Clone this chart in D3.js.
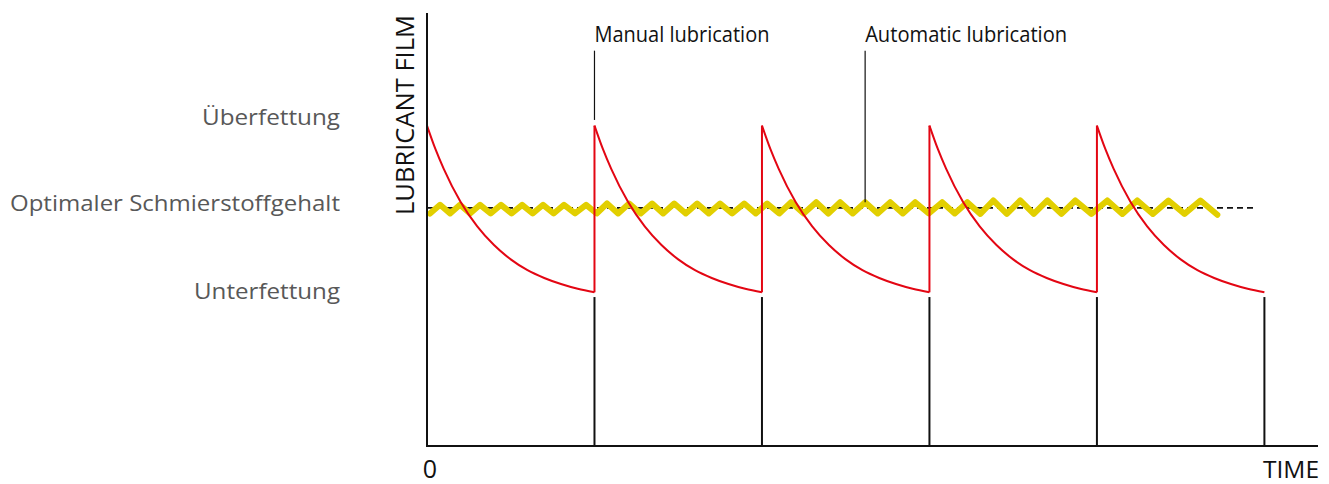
<!DOCTYPE html>
<html><head><meta charset="utf-8">
<script src="https://cdn.jsdelivr.net/npm/d3@7"></script>
<style>body{margin:0;background:#fff} svg{display:block}</style>
</head><body><svg id="c" width="1329" height="484"></svg>
<script>
// ---- data (time: 100 units = one manual lubrication interval; level 0..100) ----
const cycleStarts = [0, 100, 200, 300, 400];
const decayT = [0, 5, 10, 20, 30, 40, 50, 60, 70, 80, 90, 100];
const decayLevel = [74, 68.6, 64.0, 56.4, 50.7, 46.4, 43.1, 40.6, 38.8, 37.4, 36.3, 35.5];
const refillT = [100, 200, 300, 400];
const supplyMarksT = [100, 200, 300, 400, 500];
const supplyTopLevel = 34.4;
const optimumLevel = 55;
const optimumEndT = 495;
const zigT = [1.8, 7.8, 13.8, 19.7, 25.7, 31.7, 38.0, 44.2, 50.5, 56.8, 63.1, 69.3, 75.6, 81.8, 88.4, 95.0,
  101.3, 107.5, 114.1, 120.7, 127.6, 134.4, 141.0, 147.6, 154.5, 161.3, 168.2, 175.0, 182.2, 189.4, 196.3, 203.1,
  210.3, 217.4, 224.9, 232.4, 239.6, 246.7, 254.2, 261.6, 269.1, 276.6, 284.1, 291.5, 299.6, 307.6, 315.1, 322.6,
  330.4, 338.1, 346.2, 354.2, 362.3, 370.4, 378.8, 387.1, 396.7, 406.2, 415.2, 424.1, 433.4, 442.7, 452.3, 461.8, 471.9];
const zigLevel = [53.7, 55.7, 53.7, 55.7, 53.7, 55.7, 53.7, 55.7, 53.7, 55.7, 53.7, 55.7, 53.7, 55.7, 53.7, 55.7,
  53.7, 56.0, 53.7, 56.0, 53.7, 56.0, 53.7, 56.0, 53.7, 56.0, 53.7, 56.0, 53.7, 56.0, 53.7, 56.0,
  53.7, 56.3, 53.7, 56.3, 53.7, 56.3, 53.7, 56.3, 53.7, 56.3, 53.7, 56.3, 53.7, 56.3, 53.7, 56.3,
  53.6, 56.7, 53.6, 56.7, 53.6, 56.7, 53.6, 56.7, 53.6, 56.7, 53.6, 56.7, 53.6, 56.7, 53.6, 56.7, 53.4];
const levelLabels = ["Überfettung", "Optimaler Schmierstoffgehalt", "Unterfettung"];
const levelLabelValues = [76, 56, 35.7];
const calloutLabels = ["Manual lubrication", "Automatic lubrication"];
const calloutT = [100, 261.6];
const calloutTopLevel = 91.3;
const calloutBottomLevel = [75.3, 56.3];
const calloutTextLevel = 93.2;
const xTickLabels = ["0", "TIME"];
const yAxisTitle = "LUBRICANT FILM";

// ---- layout ----
const svg = d3.select("#c");
const x = d3.scaleLinear().domain([0, 532]).range([427, 1318]);
const y = d3.scaleLinear().domain([0, 100]).range([446, 13]);
const FONT = "'Open Sans', 'DejaVu Sans', sans-serif";
const RED = "#e30613", YELLOW = "#e2cf00";

// optimum dashed line
svg.append("line")
  .attr("x1", x(0)).attr("x2", x(optimumEndT))
  .attr("y1", y(optimumLevel)).attr("y2", y(optimumLevel))
  .attr("stroke", "#111").attr("stroke-width", 1.6).attr("stroke-dasharray", "6,4");

// automatic lubrication zigzag
const zig = zigT.map((t, i) => [t, zigLevel[i]]);
svg.append("path")
  .attr("d", d3.line().x(d => x(d[0])).y(d => y(d[1]))(zig))
  .attr("fill", "none").attr("stroke", YELLOW).attr("stroke-width", 6)
  .attr("stroke-linejoin", "round").attr("stroke-linecap", "round");

// manual lubrication decay curves
const decayLine = d3.line().x(d => x(d[0])).y(d => y(d[1])).curve(d3.curveMonotoneX);
cycleStarts.forEach(s => {
  svg.append("path")
    .attr("d", decayLine(decayT.map((t, i) => [s + t, decayLevel[i]])))
    .attr("fill", "none").attr("stroke", RED).attr("stroke-width", 2);
});
svg.selectAll(".refill").data(refillT).join("line")
  .attr("x1", d => x(d)).attr("x2", d => x(d))
  .attr("y1", y(decayLevel[decayLevel.length - 1])).attr("y2", y(decayLevel[0]))
  .attr("stroke", RED).attr("stroke-width", 2);

// black supply marks
svg.selectAll(".supply").data(supplyMarksT).join("line")
  .attr("x1", d => x(d)).attr("x2", d => x(d))
  .attr("y1", y(supplyTopLevel)).attr("y2", y(0))
  .attr("stroke", "#111").attr("stroke-width", 2);

// axes
svg.append("line").attr("x1", x(0)).attr("x2", x(0)).attr("y1", y(100)).attr("y2", y(0) + 1)
  .attr("stroke", "#111").attr("stroke-width", 2);
svg.append("line").attr("x1", x(0) - 1).attr("x2", x(532)).attr("y1", y(0)).attr("y2", y(0))
  .attr("stroke", "#111").attr("stroke-width", 2);

// callouts
calloutT.forEach((t, i) => {
  svg.append("line").attr("x1", x(t)).attr("x2", x(t))
    .attr("y1", y(calloutTopLevel)).attr("y2", y(calloutBottomLevel[i]))
    .attr("stroke", "#111").attr("stroke-width", 1.2);
});
const calloutWidths = [175, 202];
calloutLabels.forEach((txt, i) => {
  svg.append("text").attr("x", x(calloutT[i])).attr("y", y(calloutTextLevel))
    .attr("font-family", FONT).attr("font-size", 22).attr("fill", "#111")
    .attr("textLength", calloutWidths[i]).attr("lengthAdjust", "spacingAndGlyphs")
    .text(txt);
});

// level labels
const levelWidths = [138, 330, 146];
levelLabels.forEach((txt, i) => {
  svg.append("text").attr("x", 340).attr("y", y(levelLabelValues[i]))
    .attr("dy", "0.36em").attr("text-anchor", "end")
    .attr("font-family", FONT).attr("font-size", 22).attr("fill", "#585858")
    .attr("textLength", levelWidths[i]).attr("lengthAdjust", "spacingAndGlyphs")
    .text(txt);
});

// y axis title
svg.append("text").attr("transform", `translate(414,${y(100) + 2}) rotate(-90)`)
  .attr("text-anchor", "end")
  .attr("font-family", FONT).attr("font-size", 25).attr("fill", "#111")
  .attr("textLength", 200).attr("lengthAdjust", "spacingAndGlyphs")
  .text(yAxisTitle);

// x labels
svg.append("text").attr("x", x(0) + 3).attr("y", 478).attr("text-anchor", "middle")
  .attr("font-family", FONT).attr("font-size", 25).attr("fill", "#111").text(xTickLabels[0]);
svg.append("text").attr("x", x(532) + 1).attr("y", 478).attr("text-anchor", "end")
  .attr("font-family", FONT).attr("font-size", 24).attr("fill", "#111")
  .attr("textLength", 56).attr("lengthAdjust", "spacingAndGlyphs").text(xTickLabels[1]);
</script></body></html>
